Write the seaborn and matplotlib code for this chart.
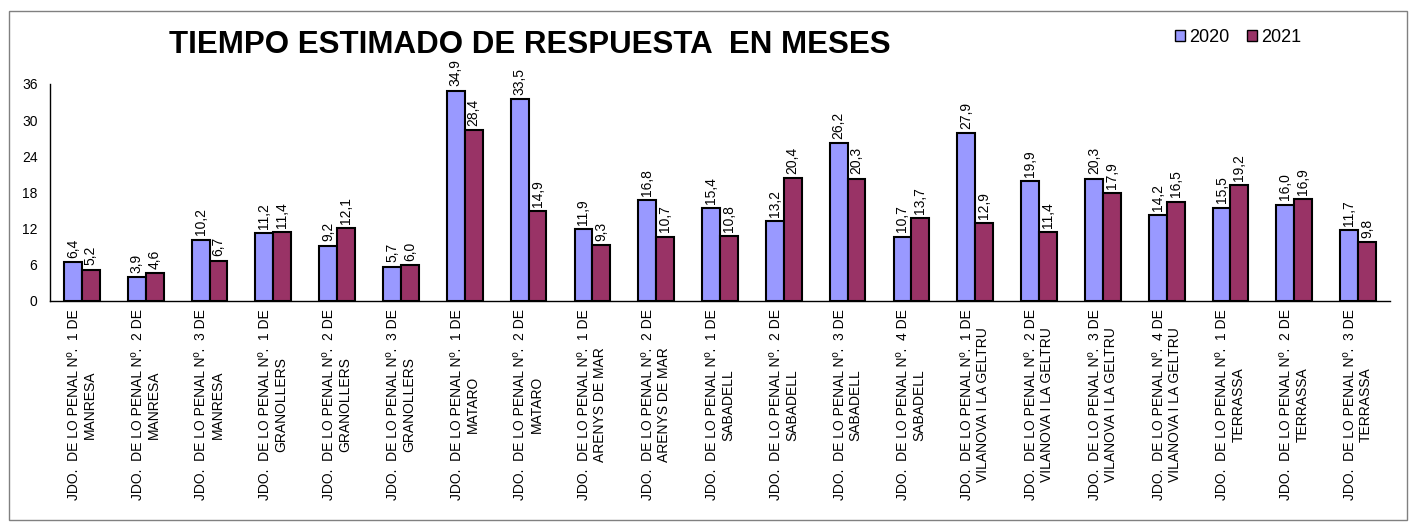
import matplotlib
matplotlib.use("Agg")
import matplotlib.pyplot as plt
import seaborn as sns
import pandas as pd
from matplotlib.patches import Rectangle, Patch

courts = [
    "JDO.  DE LO PENAL Nº.  1 DE\nMANRESA",
    "JDO.  DE LO PENAL Nº.  2 DE\nMANRESA",
    "JDO.  DE LO PENAL Nº.  3 DE\nMANRESA",
    "JDO.  DE LO PENAL Nº.  1 DE\nGRANOLLERS",
    "JDO.  DE LO PENAL Nº.  2 DE\nGRANOLLERS",
    "JDO.  DE LO PENAL Nº.  3 DE\nGRANOLLERS",
    "JDO.  DE LO PENAL Nº.  1 DE\nMATARO",
    "JDO.  DE LO PENAL Nº.  2 DE\nMATARO",
    "JDO.  DE LO PENAL Nº.  1 DE\nARENYS DE MAR",
    "JDO.  DE LO PENAL Nº.  2 DE\nARENYS DE MAR",
    "JDO.  DE LO PENAL Nº.  1 DE\nSABADELL",
    "JDO.  DE LO PENAL Nº.  2 DE\nSABADELL",
    "JDO.  DE LO PENAL Nº.  3 DE\nSABADELL",
    "JDO.  DE LO PENAL Nº.  4 DE\nSABADELL",
    "JDO.  DE LO PENAL Nº.  1 DE\nVILANOVA I LA GELTRU",
    "JDO.  DE LO PENAL Nº.  2 DE\nVILANOVA I LA GELTRU",
    "JDO.  DE LO PENAL Nº.  3 DE\nVILANOVA I LA GELTRU",
    "JDO.  DE LO PENAL Nº.  4 DE\nVILANOVA I LA GELTRU",
    "JDO.  DE LO PENAL Nº.  1 DE\nTERRASSA",
    "JDO.  DE LO PENAL Nº.  2 DE\nTERRASSA",
    "JDO.  DE LO PENAL Nº.  3 DE\nTERRASSA",
]
v2020 = [6.4, 3.9, 10.2, 11.2, 9.2, 5.7, 34.9, 33.5, 11.9, 16.8, 15.4, 13.2, 26.2, 10.7, 27.9, 19.9, 20.3, 14.2, 15.5, 16.0, 11.7]
v2021 = [5.2, 4.6, 6.7, 11.4, 12.1, 6.0, 28.4, 14.9, 9.3, 10.7, 10.8, 20.4, 20.3, 13.7, 12.9, 11.4, 17.9, 16.5, 19.2, 16.9, 9.8]
years = ["2020", "2021"]
yticks = [0, 6, 12, 18, 24, 30, 36]
title = "TIEMPO ESTIMADO DE RESPUESTA  EN MESES"

df = pd.DataFrame({
    "court": courts * 2,
    "year": [years[0]] * len(courts) + [years[1]] * len(courts),
    "value": v2020 + v2021,
})

sns.set_style("white")
plt.rcParams["font.family"] = ["Liberation Sans", "DejaVu Sans"]
plt.rcParams["text.color"] = "black"
plt.rcParams["xtick.color"] = "black"
plt.rcParams["ytick.color"] = "black"
plt.rcParams["axes.labelcolor"] = "black"

fig = plt.figure(figsize=(14.15, 5.24), dpi=100)
ax = fig.add_axes([50 / 1415, 223 / 524, 1340 / 1415, 217 / 524])

palette = {"2020": "#9999FF", "2021": "#993366"}
sns.barplot(data=df, x="court", y="value", hue="year", palette=palette,
            width=0.56, edgecolor="black", linewidth=1.5, ax=ax, legend=False,
            saturation=1)

for cont in ax.containers:
    labels = [f"{b.get_height():.1f}".replace(".", ",") for b in cont]
    ax.bar_label(cont, labels=labels, rotation=90, padding=3, fontsize=10, color="black")

ax.set_ylim(0, 36)
ax.set_yticks(yticks)
ax.set_yticklabels([str(t) for t in yticks], fontsize=10)
ax.set_xlim(-0.5, len(courts) - 0.5)
ax.set_xticks(range(len(courts)))
ax.set_xticklabels(courts, rotation=90, fontsize=10, ha="center", va="top",
                   multialignment="center")
ax.tick_params(axis="x", length=0, pad=6)
ax.set_xticks([i + 0.5 for i in range(-1, len(courts))], minor=True)
ax.tick_params(axis="x", which="minor", length=5, width=1, color="black", direction="out")
ax.tick_params(axis="y", length=5, width=1, color="black", direction="out", pad=4)
ax.set_xlabel("")
ax.set_ylabel("")
for s in ["top", "right"]:
    ax.spines[s].set_visible(False)
for s in ["left", "bottom"]:
    ax.spines[s].set_color("black")
    ax.spines[s].set_linewidth(1)

fig.text(530 / 1415, 1 - 45 / 524, title, fontsize=22.5, fontweight="bold",
         ha="center", va="center", color="black")

handles = [Patch(facecolor=palette[y], edgecolor="black", linewidth=1) for y in years]
fig.legend(handles, years, loc="center", bbox_to_anchor=(1238 / 1415, 1 - 37 / 524),
           ncol=2, frameon=False, fontsize=13, handlelength=0.55, handleheight=0.55,
           handletextpad=0.2, columnspacing=1.0)

fig.patches.append(Rectangle((9 / 1415, 4 / 524), 1398 / 1415, 509 / 524,
                             transform=fig.transFigure, fill=False,
                             edgecolor="#808080", linewidth=1))

fig.savefig("out.png", dpi=100)
